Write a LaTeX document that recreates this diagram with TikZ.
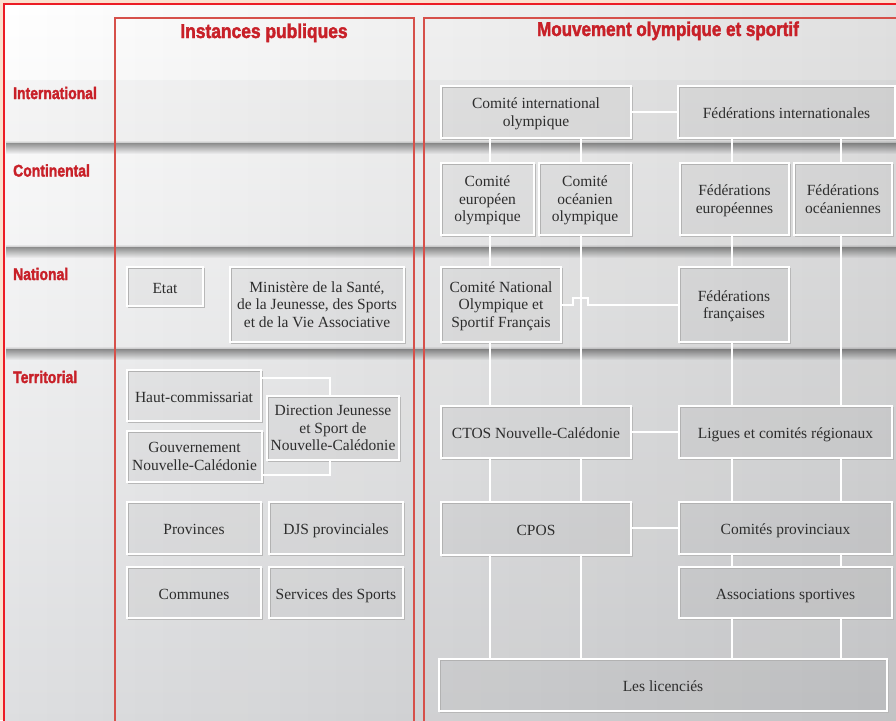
\documentclass[tikz,border=0pt]{standalone}
\usepackage{fontspec}
\usepackage{graphicx}
\setmainfont{Liberation Serif}
\newfontfamily\headfont[FakeBold=2.2]{Liberation Sans}
\usetikzlibrary{fadings,shadows}
\tikzfading[name=fadedown, top color=transparent!0, bottom color=transparent!100]
\tikzfading[name=fadeup, top color=transparent!100, bottom color=transparent!0]
\tikzfading[name=faderight, left color=transparent!100, right color=transparent!0]
\definecolor{titlered}{RGB}{200,32,40}
\definecolor{framered}{RGB}{214,80,74}
\definecolor{outerred}{RGB}{236,28,36}
\definecolor{pinkbg}{RGB}{251,224,206}
\definecolor{bgtop}{RGB}{255,255,255}
\definecolor{bgbottom}{RGB}{221,222,224}
\definecolor{textgray}{RGB}{45,45,45}
\tikzset{
  box/.style={draw=white, line width=1.2pt, fill=black, fill opacity=0.03, text opacity=1,
    text=textgray, align=center, inner sep=0pt,
    font=\fontsize{15.5}{17.5}\selectfont,
    drop shadow={shadow xshift=1.3pt, shadow yshift=-1.3pt, fill=none, draw=black!28, line width=1pt, opacity=1}},
  sgl/.style={box, text height=13.5pt, text depth=0.5pt},
  mlt/.style={box, text depth=-1.3pt},
  conn/.style={draw=white, line width=1.4pt},
  lvl/.style={anchor=base west, text=titlered, inner sep=0pt, font=\headfont\bfseries\fontsize{16.8}{18}\selectfont},
  ttl/.style={anchor=base, text=titlered, inner sep=0pt, font=\headfont\bfseries\fontsize{20}{22}\selectfont},
  bandshadow/.style={fill=black, fill opacity=0.42, path fading=fadedown},
  bandpre/.style={fill=black, fill opacity=0.18, path fading=fadeup}
}
\begin{document}
\begin{tikzpicture}[x=1pt,y=-1pt]
\useasboundingbox (0,0) rectangle (896,720);
\begin{scope}
\clip (0,0) rectangle (896,720);
\fill[pinkbg] (0,0) rectangle (896,720);
\shade[top color=bgtop, bottom color=bgbottom] (4,4) rectangle (900,724);
\fill[black, fill opacity=0.12, path fading=faderight] (4,4) rectangle (900,724);
\fill[black, fill opacity=0.025] (4,80) rectangle (900,143);
% band shadows
\foreach \yy in {143,247,349}{
  \fill[bandpre] (6,\yy-3) rectangle (900,\yy);
  \fill[bandshadow] (6,\yy) rectangle (900,\yy+11);
}
\end{scope}

% column x coordinates
\coordinate (xa) at (490,0);
\coordinate (xb) at (581,0);
\coordinate (xc) at (732,0);
\coordinate (xd) at (841,0);

% ---- right boxes
\node[mlt, minimum width=190pt, minimum height=52pt] (CIO) at (536,112) {Comité international\\olympique};
\node[sgl, minimum width=217pt, minimum height=52pt] (FI) at (786.5,112) {Fédérations internationales};
\node[mlt, minimum width=93pt, minimum height=72pt] (CEO) at (487.5,199) {Comité\\européen\\olympique};
\node[mlt, minimum width=92pt, minimum height=72pt] (COO) at (585,199) {Comité\\océanien\\olympique};
\node[mlt, minimum width=109pt, minimum height=72pt] (FE) at (734.5,199) {Fédérations\\européennes};
\node[mlt, minimum width=98pt, minimum height=72pt] (FO) at (843,199) {Fédérations\\océaniennes};
\node[mlt, minimum width=120pt, minimum height=75pt] (CNOSF) at (501,304.5) {Comité National\\Olympique et\\Sportif Français};
\node[mlt, minimum width=110pt, minimum height=75pt] (FF) at (734,304.5) {Fédérations\\françaises};
\node[sgl, minimum width=190pt, minimum height=52pt] (CTOS) at (536,432) {CTOS Nouvelle-Calédonie};
\node[sgl, minimum width=213pt, minimum height=52pt] (LIG) at (785.5,432) {Ligues et comités régionaux};
\node[sgl, minimum width=190pt, minimum height=53pt] (CPOS) at (536,528.5) {CPOS};
\node[sgl, minimum width=213pt, minimum height=52pt] (CP) at (785.5,528) {Comités provinciaux};
\node[sgl, minimum width=213pt, minimum height=51pt] (AS) at (785.5,592.5) {Associations sportives};
\node[sgl, minimum width=448pt, minimum height=52pt] (LL) at (663,685) {Les licenciés};

% ---- left boxes
\node[sgl, minimum width=76pt, minimum height=39pt] (ETAT) at (165,286.5) {Etat};
\node[mlt, minimum width=174pt, minimum height=75pt] (MIN) at (317,304.5) {Ministère de la Santé,\\de la Jeunesse, des Sports\\et de la Vie Associative};
\node[sgl, minimum width=134pt, minimum height=51pt] (HC) at (194,395.5) {Haut-commissariat};
\node[mlt, minimum width=135pt, minimum height=51pt] (GNC) at (194.5,456.5) {Gouvernement\\Nouvelle-Calédonie};
\node[mlt, minimum width=132pt, minimum height=64pt] (DJSNC) at (333,428) {Direction Jeunesse\\et Sport de\\Nouvelle-Calédonie};
\node[sgl, minimum width=134pt, minimum height=52pt] (PROV) at (194,528) {Provinces};
\node[sgl, minimum width=134pt, minimum height=52pt] (DJSP) at (336,528) {DJS provinciales};
\node[sgl, minimum width=134pt, minimum height=51pt] (COMM) at (194,592.5) {Communes};
\node[sgl, minimum width=134pt, minimum height=51pt] (SDS) at (336,592.5) {Services des Sports};

% ---- connectors
\draw[conn] (CIO.east) -- (FI.west);
\draw[conn] (CIO.south -| xa) -- (CEO.north -| xa);
\draw[conn] (CIO.south -| xb) -- (COO.north -| xb);
\draw[conn] (FI.south -| xc) -- (FE.north -| xc);
\draw[conn] (FI.south -| xd) -- (FO.north -| xd);
\draw[conn] (CEO.south -| xa) -- (CNOSF.north -| xa);
\draw[conn] (COO.south -| xb) -- (CTOS.north -| xb);
\draw[conn] (FE.south -| xc) -- (FF.north -| xc);
\draw[conn] (FO.south -| xd) -- (LIG.north -| xd);
\draw[conn] (CNOSF.south -| xa) -- (CTOS.north -| xa);
\draw[conn] (FF.south -| xc) -- (LIG.north -| xc);
\coordinate (h1) at (573,305);
\coordinate (h2) at (588,305);
\draw[conn] (CNOSF.east |- h1) -- (h1) -- ++(0,-7) -| (h2) -- (FF.west |- h2);
\draw[conn] (CTOS.east) -- (LIG.west);
\draw[conn] (CTOS.south -| xa) -- (CPOS.north -| xa);
\draw[conn] (CTOS.south -| xb) -- (CPOS.north -| xb);
\draw[conn] (LIG.south -| xc) -- (CP.north -| xc);
\draw[conn] (LIG.south -| xd) -- (CP.north -| xd);
\draw[conn] (CPOS.east |- CP.west) -- (CP.west);
\draw[conn] (CPOS.south -| xa) -- (LL.north -| xa);
\draw[conn] (CPOS.south -| xb) -- (LL.north -| xb);
\draw[conn] (CP.south -| xc) -- (AS.north -| xc);
\draw[conn] (CP.south -| xd) -- (AS.north -| xd);
\draw[conn] (AS.south -| xc) -- (LL.north -| xc);
\draw[conn] (AS.south -| xd) -- (LL.north -| xd);
\coordinate (k1) at (330,378);
\coordinate (k2) at (330,475);
\draw[conn] (HC.east |- k1) -- (k1) -- (DJSNC.north -| k1);
\draw[conn] (GNC.east |- k2) -- (k2) -- (DJSNC.south -| k2);

% ---- frames
\begin{scope}
\clip (0,0) rectangle (896,720);
\draw[outerred, line width=1.2pt] (4,4) rectangle (905,730);
\draw[framered, line width=1.5pt] (115,18) rectangle (414,730);
\draw[framered, line width=1.5pt] (424,18) rectangle (905,730);
\end{scope}

% ---- titles and levels
\node[ttl] (T1) at (264,38) {\scalebox{0.87}[1]{Instances publiques}};
\node[ttl] (T2) at (668,36) {\scalebox{0.85}[1]{Mouvement olympique et sportif}};
\node[lvl] (L1) at (13,99) {\scalebox{0.83}[1]{International}};
\node[lvl] (L2) at (13,176.5) {\scalebox{0.83}[1]{Continental}};
\node[lvl] (L3) at (13,280) {\scalebox{0.83}[1]{National}};
\node[lvl] (L4) at (13,383) {\scalebox{0.83}[1]{Territorial}};
\end{tikzpicture}
\end{document}
